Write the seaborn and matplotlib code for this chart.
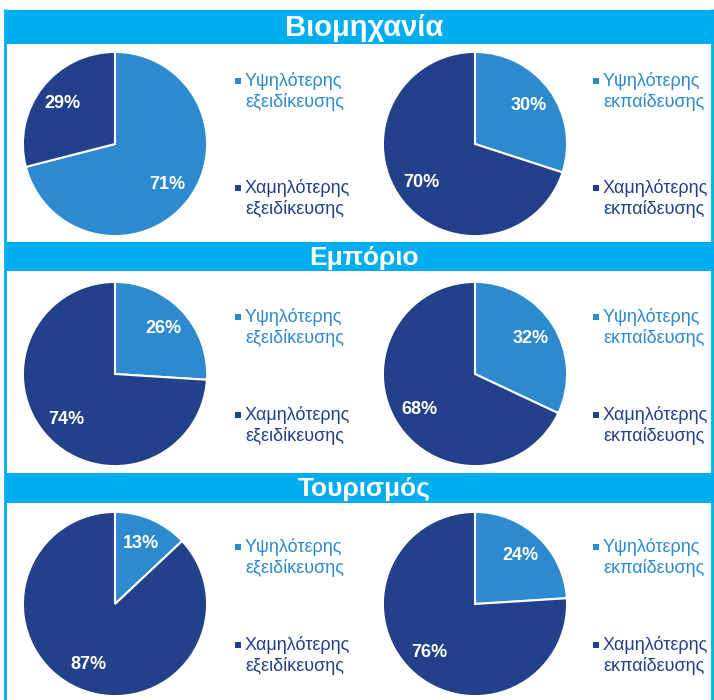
import matplotlib.pyplot as plt
import seaborn as sns
from matplotlib.patches import Rectangle

# Data
sectors = ['Βιομηχανία', 'Εμπόριο', 'Τουρισμός']
skill_high = [71, 26, 13]
skill_low = [29, 74, 87]
edu_high = [30, 32, 24]
edu_low = [70, 68, 76]
skill_labels = ['Υψηλότερης\nεξειδίκευσης', 'Χαμηλότερης\nεξειδίκευσης']
edu_labels = ['Υψηλότερης\nεκπαίδευσης', 'Χαμηλότερης\nεκπαίδευσης']

sns.set_theme(style='white')
plt.rcParams['font.family'] = ['Liberation Sans', 'DejaVu Sans']

light = '#2D8ACF'
dark = '#22418A'
header = '#00AEEF'
W, H = 714, 700

fig = plt.figure(figsize=(W / 100, H / 100), dpi=100)
fig.patch.set_facecolor('white')

# background axes in pixel coordinates for headers / legends
bg = fig.add_axes([0, 0, 1, 1])
bg.set_xlim(0, W)
bg.set_ylim(H, 0)
bg.axis('off')

band_top = [10, 242, 473]
band_h = [34, 29, 30]
pie_cy = [144, 374, 604]
pie_cx = [115, 475]
rx, ry = 93, 93

# side border lines
bg.plot([5, 5], [10, 700], color=header, lw=2)
bg.plot([712, 712], [10, 700], color=header, lw=2)

for i, sector in enumerate(sectors):
    bg.add_patch(Rectangle((5, band_top[i]), W - 5, band_h[i], color=header, lw=0))
    bg.text(364, band_top[i] + band_h[i] / 2 + 1, sector, ha='center', va='center',
            color='white', fontsize=21 if i == 0 else 19, fontweight='bold')

    pairs = [([skill_high[i], skill_low[i]], skill_labels, 232),
             ([edu_high[i], edu_low[i]], edu_labels, 590)]
    for j, (vals, labs, lx) in enumerate(pairs):
        cx, cy = pie_cx[j], pie_cy[i]
        ax = fig.add_axes([(cx - rx) / W, 1 - (cy + ry) / H, 2 * rx / W, 2 * ry / H])
        ax.pie(vals, colors=[light, dark], startangle=90, counterclock=False,
               autopct='%d%%', pctdistance=0.72,
               wedgeprops={'edgecolor': 'white', 'linewidth': 1.5},
               textprops={'color': 'white', 'fontsize': 13, 'fontweight': 'bold'})
        ax.set_xlim(-1.01, 1.01)
        ax.set_ylim(-1.01, 1.01)
        ax.set_aspect('auto')

        # legend entries
        off = [-63, 44] if i == 0 else [-57, 41]
        for k, (lab, col) in enumerate(zip(labs, [light, dark])):
            ty = cy + off[k]
            bg.add_patch(Rectangle((lx + 3, ty - 3), 6, 6, color=col, lw=0))
            bg.text(lx + 13, ty - 9, lab, ha='left', va='top', color=col,
                    fontsize=13, linespacing=1.2)

plt.savefig('out.png', dpi=100)
